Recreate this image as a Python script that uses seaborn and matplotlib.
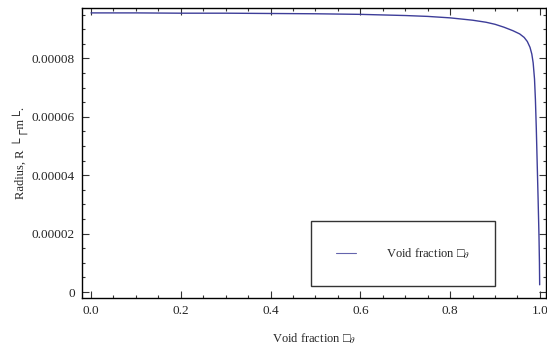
import numpy as np
import pandas as pd
import matplotlib
matplotlib.use("Agg")
import matplotlib.pyplot as plt
import seaborn as sns
from matplotlib.ticker import MultipleLocator, FuncFormatter

# data
void_fraction = [0.0, 0.1, 0.2, 0.3, 0.4, 0.5, 0.6, 0.7, 0.75, 0.8, 0.85, 0.88, 0.9,
                 0.92, 0.94, 0.955, 0.965, 0.972, 0.978, 0.982, 0.985, 0.988, 0.99,
                 0.992, 0.994, 0.996, 0.998, 0.999, 0.9995]
radius_e5 = [9.56, 9.56, 9.55, 9.55, 9.54, 9.53, 9.51, 9.47, 9.44, 9.39, 9.31, 9.24, 9.17,
             9.07, 8.95, 8.84, 8.72, 8.58, 8.38, 8.15, 7.85, 7.3, 6.6,
             5.6, 4.4, 3.2, 1.9, 1.0, 0.25]
radius = [r * 1e-5 for r in radius_e5]

df = pd.DataFrame({"void": void_fraction, "R": radius})

sns.set_style("ticks")
plt.rcParams['font.family'] = ['Liberation Serif', 'DejaVu Sans']
plt.rcParams['mathtext.fontset'] = 'stix'

fig = plt.figure(figsize=(5.47, 3.45), dpi=100)
ax = fig.add_axes([0.150, 0.136, 0.848, 0.841])

sns.lineplot(data=df, x="void", y="R", ax=ax, color="#3d3d99", linewidth=1.0,
             label="Void fraction \u25a1$_{\\theta}$")

ax.set_xlim(-0.02, 1.0134)
ax.set_ylim(-0.205e-5, 9.73e-5)

ax.xaxis.set_major_locator(MultipleLocator(0.2))
ax.xaxis.set_minor_locator(MultipleLocator(0.05))
ax.yaxis.set_major_locator(MultipleLocator(2e-5))
ax.yaxis.set_minor_locator(MultipleLocator(0.5e-5))
ax.xaxis.set_major_formatter(FuncFormatter(lambda v, p: f"{v:.1f}"))
ax.yaxis.set_major_formatter(FuncFormatter(lambda v, p: "0" if abs(v) < 1e-12 else f"{v:.5f}"))

ax.tick_params(which="both", direction="in", top=True, right=True, labelsize=9.5,
               color="#333333", width=0.8)
ax.tick_params(which="major", length=5, pad=5)
ax.tick_params(which="minor", length=2.5)
for s in ax.spines.values():
    s.set_linewidth(1.0)
    s.set_color("black")

ax.set_xlabel("Void fraction \u25a1$_{\\theta}$", fontsize=9, labelpad=10)
ax.set_ylabel("Radius, R \u2514\u250cm\u2514.", fontsize=9, labelpad=3)

leg = ax.legend(loc="center", bbox_to_anchor=(0.6925, 0.1535), fontsize=9,
                frameon=True, fancybox=False, borderpad=2.0, handlelength=1.6,
                handletextpad=2.4)
leg.get_frame().set_edgecolor("black")
leg.get_frame().set_linewidth(1.0)
leg.get_frame().set_boxstyle("square", pad=0)
for ln in leg.get_lines():
    ln.set_linewidth(0.8)
    ln.set_alpha(0.8)

fig.savefig("out.png", dpi=100)
